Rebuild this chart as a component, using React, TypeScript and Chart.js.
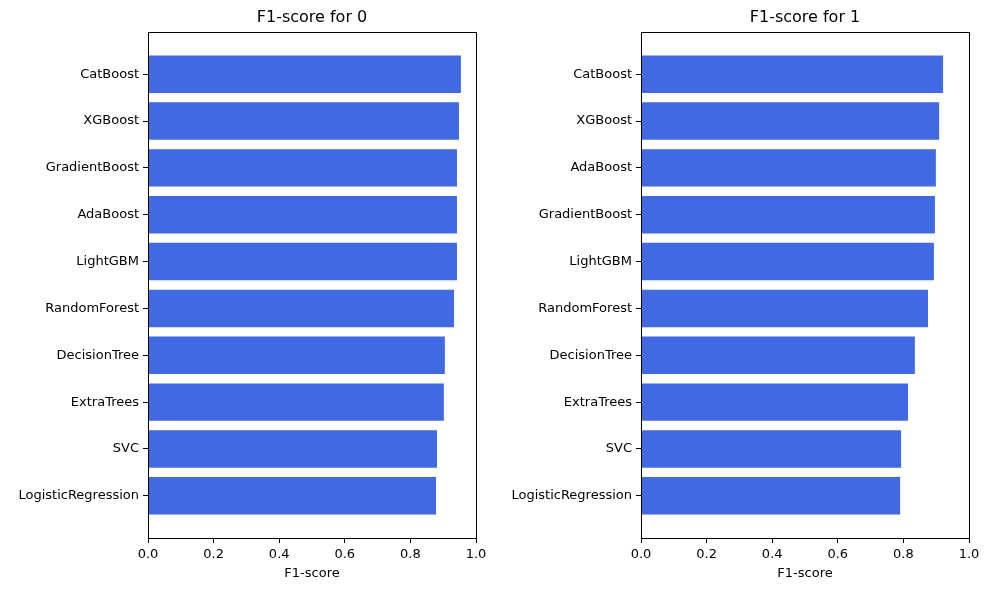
import React, { useEffect, useRef } from 'react';
import { Chart, registerables } from 'chart.js';

Chart.register(...registerables);

const models0 = ['CatBoost', 'XGBoost', 'GradientBoost', 'AdaBoost', 'LightGBM', 'RandomForest', 'DecisionTree', 'ExtraTrees', 'SVC', 'LogisticRegression'];
const scores0 = [0.954, 0.948, 0.942, 0.942, 0.942, 0.933, 0.905, 0.902, 0.881, 0.878];

const models1 = ['CatBoost', 'XGBoost', 'AdaBoost', 'GradientBoost', 'LightGBM', 'RandomForest', 'DecisionTree', 'ExtraTrees', 'SVC', 'LogisticRegression'];
const scores1 = [0.921, 0.909, 0.899, 0.896, 0.893, 0.875, 0.835, 0.814, 0.793, 0.790];

const xTicks = [0, 0.2, 0.4, 0.6, 0.8, 1.0];

const FONT = 'DejaVu Sans';

// axes box + title centred over the plot area, like matplotlib
const boxPlugin = {
  id: 'box',
  afterDraw(chart: any, _args: any, opts: any) {
    const { ctx, chartArea: a } = chart;
    ctx.save();
    ctx.strokeStyle = '#000';
    ctx.lineWidth = 1;
    ctx.strokeRect(a.left + 0.5, a.top + 0.5, a.right - a.left, a.bottom - a.top);
    ctx.fillStyle = '#000';
    ctx.font = `16px "${FONT}"`;
    ctx.textAlign = 'center';
    ctx.textBaseline = 'middle';
    ctx.fillText(opts.text, (a.left + a.right) / 2, 18);
    ctx.restore();
  },
};

function BarPanel({ labels, values, title, yWidth, padRight }: { labels: string[]; values: number[]; title: string; yWidth: number; padRight: number }) {
  const ref = useRef<HTMLCanvasElement>(null);

  useEffect(() => {
    if (!ref.current) return;
    const chart = new Chart(ref.current, {
      type: 'bar',
      data: {
        datasets: [{
          data: values.map((v, i) => ({ x: v, y: i })),
          backgroundColor: '#4169E1',
          barPercentage: 0.8,
          categoryPercentage: 1,
        }],
      },
      options: {
        indexAxis: 'y',
        animation: false,
        responsive: false,
        layout: { padding: { left: 0, right: padRight, top: 32, bottom: 9 } },
        plugins: {
          legend: { display: false },
          tooltip: { enabled: false },
          title: { display: false },
          box: { text: title },
        } as any,
        scales: {
          x: {
            type: 'linear',
            min: 0,
            max: 1,
            afterBuildTicks: (s: any) => { s.ticks = xTicks.map((v) => ({ value: v })); },
            afterFit: (s: any) => { s.height = 43; },
            ticks: { color: '#000', font: { family: FONT, size: 13 }, callback: (v: any) => Number(v).toFixed(1), padding: 4 },
            grid: { display: true, drawOnChartArea: false, drawTicks: true, tickLength: 5, color: '#000' },
            border: { display: true, color: '#000' },
            title: { display: true, text: 'F1-score', color: '#000', font: { family: FONT, size: 13 }, padding: { top: 2, bottom: 0 } },
          },
          y: {
            type: 'linear',
            offset: false,
            min: -0.9,
            max: labels.length - 0.1,
            reverse: true,
            afterBuildTicks: (s: any) => { s.ticks = labels.map((_, i) => ({ value: i })); },
            afterFit: (s: any) => { s.width = yWidth; },
            ticks: { color: '#000', font: { family: FONT, size: 13 }, callback: (v: any) => labels[v] ?? '', padding: 4, autoSkip: false },
            grid: { display: true, offset: false, drawOnChartArea: false, drawTicks: true, tickLength: 5, color: '#000' },
            border: { display: true, color: '#000' },
          },
        },
      },
      plugins: [boxPlugin],
    });
    return () => chart.destroy();
  }, [labels, values, title, yWidth, padRight]);

  return <canvas ref={ref} width={yWidth + 328 + padRight} height={590} />;
}

export default function App() {
  return (
    <div style={{ position: 'fixed', left: 0, top: 0, width: 989, height: 590, background: '#fff', display: 'flex' }}>
      <BarPanel labels={models0} values={scores0} title="F1-score for 0" yWidth={148} padRight={18} />
      <BarPanel labels={models1} values={scores1} title="F1-score for 1" yWidth={147} padRight={21} />
    </div>
  );
}
